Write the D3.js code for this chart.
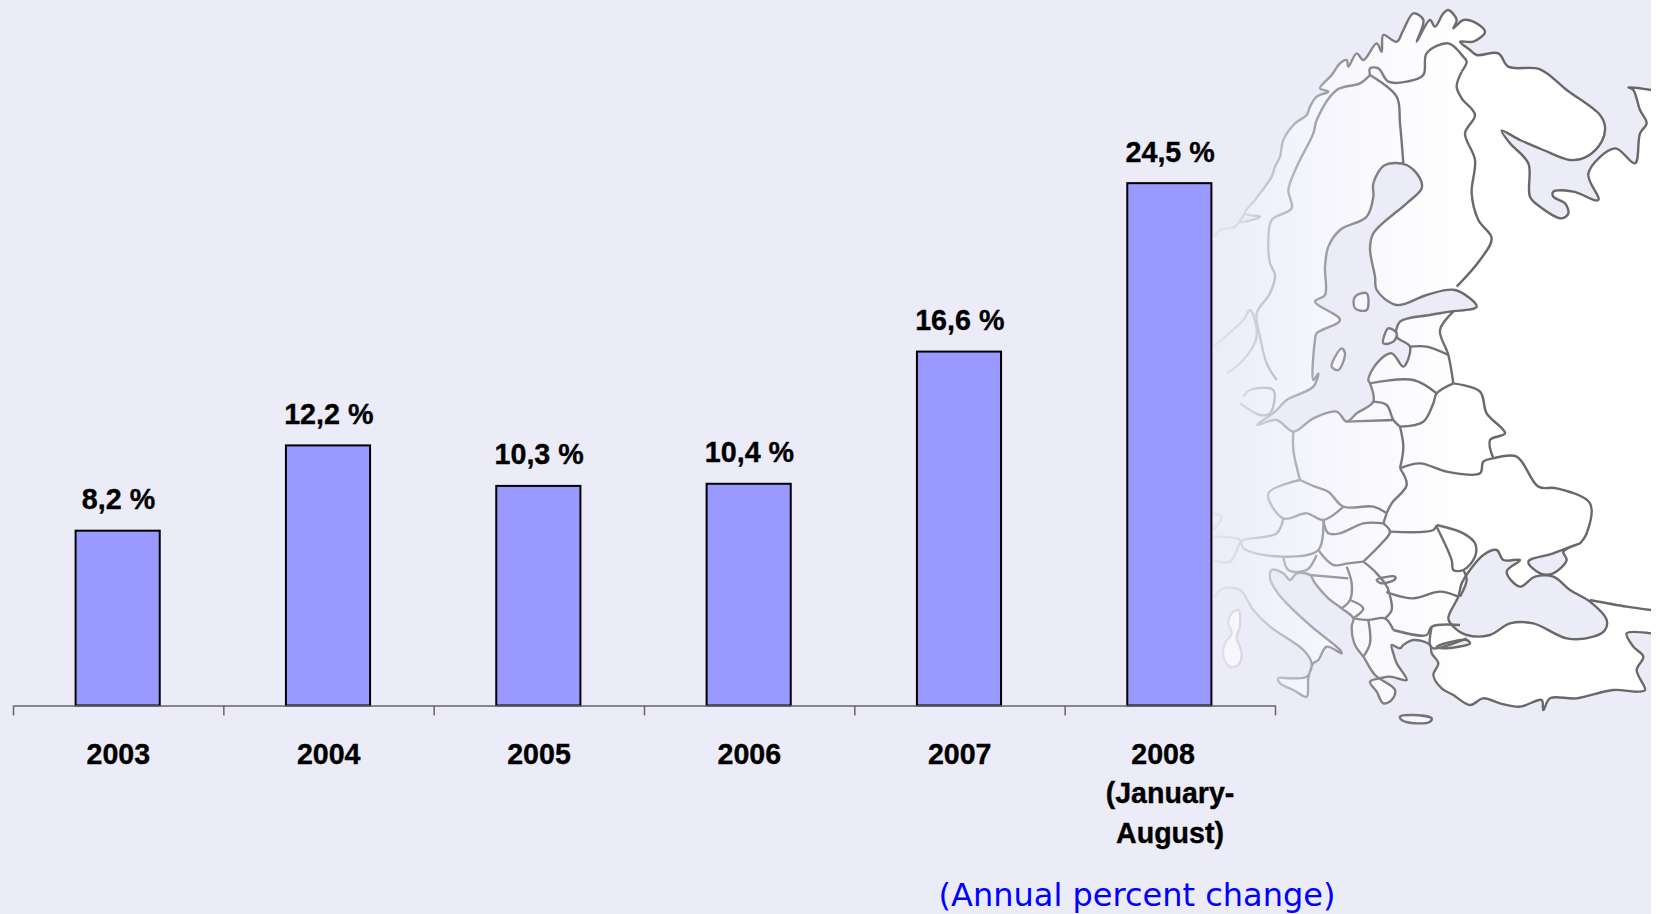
<!DOCTYPE html>
<html><head><meta charset="utf-8">
<style>html,body{margin:0;padding:0;background:#fff}svg{display:block}</style>
<script src="https://cdnjs.cloudflare.com/ajax/libs/d3/7.8.5/d3.min.js"></script>
</head><body><svg id="c" width="1660" height="914"></svg>
<script>
const categories = ["2003","2004","2005","2006","2007","2008"];
const values = [8.2,12.2,10.3,10.4,16.6,24.5];
const valueLabels = ["8,2 %","12,2 %","10,3 %","10,4 %","16,6 %","24,5 %"];
const categoryLines = [["2003"],["2004"],["2005"],["2006"],["2007"],["2008","(January-","August)"]];
const unitNote = "(Annual percent change)";

// Decorative background map outlines, traced by hand (not chart data).
const north = s => s.trim().split(/\s+/).map(d => { const [a,b] = d.split(",").map(Number); return [1200+a/3, b/3]; });
const south = s => s.trim().split(/\s+/).map(d => { const [a,b] = d.split(",").map(Number); return [1200+a/3, 370+b/3]; });

const arcticCoast = north("40,710 60,690 105,680 135,640 120,665 180,650 135,640 165,600 215,530 225,500 240,470 250,420 285,370 320,345 330,320 350,290 385,275 360,265 395,225 420,190 440,180 445,200 470,160 490,180 530,130 545,155 550,105 590,125 610,90 640,40 670,60 650,125 690,60 705,80 730,40 745,30 770,60 760,85 790,60 820,65 855,95 820,125 780,125 810,150 830,165 895,160 925,200 1020,208 1100,270 1200,345 1215,380 1205,425 1160,470 1110,480 1030,450 960,420 905,392 930,430 985,490 990,590 1020,620 1085,655 1105,640 1095,610 1060,590 1060,575 1120,575 1195,600 1165,520 1245,445 1305,490 1320,400 1340,370 1320,330 1300,270 1285,262 1353,270");
const southernCoast = south("1353,790 1280,790 1300,830 1330,860 1310,900 1335,960 1310,965 1240,960 1130,985 1050,985 1030,1020 1025,990 960,1010 900,1000 850,985 810,1005 760,975 725,955 700,915 715,880 695,850 690,825 640,810 610,825 600,835 575,825 580,850 590,880 620,930 570,920 540,925 510,935 530,965 550,1000 575,990 585,960 525,915 490,860 465,825 455,770 460,745 425,715 385,685 345,640 330,615 290,610 270,630 250,610 215,600 210,625 230,665 260,700 335,770 420,840 425,850 380,830 355,870 340,880 325,925 320,980 280,960 240,940 235,925 270,925 320,920 335,880 310,840 210,770 160,720 120,660 70,655 40,680");
const balticSea = [].concat(
 north("340,1140 345,1020 350,1000 420,960 345,905 375,885 375,800 385,740 420,690 500,650 520,590 520,550 555,495 620,495 660,535 665,565 620,610 520,700 510,745 525,830 530,870 590,915 680,885 765,870 830,920 750,935 690,945 600,965 590,1010 630,1040 610,1100 575,1060 530,1090 505,1140"),
 south("510,40 520,95 470,130 440,155 410,125 340,145 280,185 230,150 170,165 225,125 260,90 340,50 355,10")
);
const blackSea = south("785,640 810,600 850,555 890,540 910,570 960,570 920,605 960,650 1005,620 1060,620 1110,660 1170,695 1220,750 1215,780 1180,800 1100,805 1000,760 930,760 870,795 800,795 760,770 745,745 775,680");
const azovSea = south("985,575 1020,610 1060,610 1100,570 1090,545 1140,520 1060,550");
const marmaraSea = south("710,830 800,810 810,820 730,835");
const islands = [
 south("600,1040 640,1035 695,1045 690,1055 650,1060 605,1050"),
 south("95,730 115,720 120,770 110,800 125,850 115,885 90,890 70,860 75,820 95,790 85,760"),
 north("395,1100 425,1045 435,1060 415,1110"),
 north("550,1030 565,985 590,1000 580,1025"),
 north("465,890 500,880 500,930 465,925"),
 south("530,630 585,620 585,628 545,640")
];
const borderLines = [
 north("510,225 480,250 410,270 350,360 340,400 290,500 265,570 275,625 215,660 205,720 210,790 225,825 210,880 170,940 180,1010 200,1090 230,1140"),
 north("510,225 510,205 535,205 565,245 620,245 670,225 680,160 745,130 790,170 800,185 785,215"),
 north("510,225 590,290 600,370 610,490"),
 north("785,215 770,260 785,295 825,345 795,400 825,480 815,580 835,660 875,715 840,780 770,860"),
 north("630,1040 680,1040 745,1065"),
 north("760,935 720,990 745,1065 760,1150"),
 north("40,1040 130,960 150,930 170,1010 130,1080 80,1120"),
 south("510,40 640,30 710,70"),
 south("760,40 710,70 700,100 670,155 600,170"),
 south("520,95 560,105 580,150 600,170"),
 south("440,155 580,150"),
 south("760,40 840,65 860,130 915,190 870,210 880,265"),
 south("600,170 610,230 600,295"),
 south("600,295 660,280 740,305 840,310 850,275 880,265"),
 south("880,265 950,260 1015,350 1070,355 1170,400 1160,490 1140,520"),
 south("280,185 280,240 300,330"),
 south("600,295 620,345 575,400 560,430"),
 south("300,330 205,370 250,445 320,430 370,450 430,410"),
 south("300,330 345,350 385,365 430,410 520,410 560,430"),
 south("370,450 385,490 420,490 490,460 550,460"),
 south("560,430 550,460"),
 south("550,460 570,485 545,520 490,575"),
 south("570,485 700,480 710,465"),
 south("710,465 790,490 825,520 825,560 790,600 760,600 755,570 710,470"),
 south("790,600 800,630 780,680"),
 south("490,575 530,610 565,660 560,670"),
 south("570,670 640,685 720,665 775,680"),
 south("250,445 230,490 130,510 120,520 90,575 40,570"),
 south("370,450 355,540 250,560 130,535 120,510 40,500"),
 south("355,540 400,585 445,580 490,575"),
 south("250,560 265,600 320,600 350,555"),
 south("330,615 445,625"),
 south("440,590 455,640 450,690 425,715"),
 south("450,690 490,715 460,745"),
 south("565,660 575,720 555,745"),
 south("460,745 505,750 555,745 580,780"),
 south("505,750 510,820 490,860"),
 south("580,780 680,795 695,770 780,765"),
 south("695,770 690,825 700,835 800,805"),
 south("1170,690 1280,710 1353,720"),
 south("40,430 65,440 40,480"),
 south("130,80 150,60 220,60 210,130 180,135 120,100")
];

const svg = d3.select("#c");
const background = "#ECECF9";
svg.append("rect").attr("width",1651).attr("height",914).attr("fill",background);

const defs = svg.append("defs");
const gradient = (id, stops) => {
  const g = defs.append("linearGradient").attr("id",id).attr("gradientUnits","userSpaceOnUse")
    .attr("x1",1210).attr("x2",1480).attr("y1",0).attr("y2",0);
  stops.forEach(([o,c]) => g.append("stop").attr("offset",o).attr("stop-color",c));
};
gradient("landFill",[[0,background],[0.39,"#F5F5FC"],[0.7,"#FBFBFE"],[0.95,"#FFFFFF"],[1,"#FFFFFF"]]);
gradient("coastLine",[[0,"#E6E6F0"],[0.12,"#D8D8E4"],[0.39,"#A4A4AC"],[0.7,"#767678"],[1,"#686868"]]);
defs.append("filter").attr("id","soft").append("feGaussianBlur").attr("stdDeviation",0.6);
defs.append("clipPath").attr("id","mapClip").append("rect").attr("x",1205).attr("width",446).attr("height",914);

const closed = d3.line().curve(d3.curveCatmullRomClosed.alpha(0.5));
const open = d3.line().curve(d3.curveCatmullRom.alpha(0.5));

const map = svg.append("g").attr("clip-path","url(#mapClip)").append("g").attr("filter","url(#soft)");
const style = sel => sel.attr("stroke","url(#coastLine)").attr("stroke-width",2.4).attr("stroke-linejoin","round");
map.append("path").attr("d",open(arcticCoast)+"L"+open(southernCoast).slice(1)+"Z").attr("fill","url(#landFill)").attr("stroke","none");
[arcticCoast,southernCoast].forEach(s => map.append("path").attr("d",open(s)).attr("fill","none").call(style));
[balticSea,blackSea,azovSea,marmaraSea].forEach(s =>
  map.append("path").attr("d",closed(s)).attr("fill",background).call(style));
islands.forEach(s => map.append("path").attr("d",closed(s)).attr("fill","#F6F6FC").call(style));
borderLines.forEach(s => map.append("path").attr("d",open(s)).attr("fill","none").call(style));

// Chart
const x = d3.scaleBand().domain(categories).range([13,1275]);
const edge = d3.scaleLinear().domain([0,categories.length]).range([13,1275]);
const y = d3.scaleLinear().domain([0,25]).range([705.5,172.5]);
const barW = x.bandwidth()*0.4;
const FONT = "'Liberation Sans',Arial,sans-serif";

svg.append("g").selectAll("rect").data(values).join("rect")
  .attr("x",(d,i)=>x(categories[i])+(x.bandwidth()-barW)/2-0.5)
  .attr("y",d=>y(d)).attr("width",barW).attr("height",d=>y(0)-y(d))
  .attr("fill","#9999FF").attr("stroke","#000").attr("stroke-width",2);

const axis = svg.append("g").attr("transform",`translate(0,${y(0)})`)
  .call(d3.axisBottom(edge).tickValues(d3.range(categories.length+1)).tickFormat("").tickSize(10).tickSizeOuter(0));
axis.selectAll("path,line").attr("stroke","#666").attr("stroke-width",1.5);

svg.append("g").selectAll("text").data(valueLabels).join("text")
  .attr("x",(d,i)=>x(categories[i])+x.bandwidth()/2+0.3)
  .attr("y",(d,i)=>y(values[i])-21.5)
  .attr("text-anchor","middle").attr("font-family",FONT).attr("font-weight","bold").attr("font-size",28.7)
  .attr("fill","#000").attr("stroke","#000").attr("stroke-width",0.35).text(d=>d);

const catText = svg.append("g").selectAll("text").data(categoryLines).join("text")
  .attr("text-anchor","middle").attr("font-family",FONT).attr("font-weight","bold").attr("font-size",28.6)
  .attr("fill","#000").attr("stroke","#000").attr("stroke-width",0.35);
catText.each(function(lines,i){
  const c = x(categories[i])+x.bandwidth()/2;
  d3.select(this).selectAll("tspan").data(lines).join("tspan")
    .attr("x",(l,j)=> c + (lines.length>1 && j===0 ? -6.7 : 0.2))
    .attr("y",(l,j)=>763.5+j*39.7).text(l=>l);
});

svg.append("text").attr("x",1137).attr("y",906).attr("text-anchor","middle")
  .attr("font-family","'DejaVu Sans',Verdana,sans-serif").attr("font-size",32).attr("fill","#0000FF").text(unitNote);
</script></body></html>
